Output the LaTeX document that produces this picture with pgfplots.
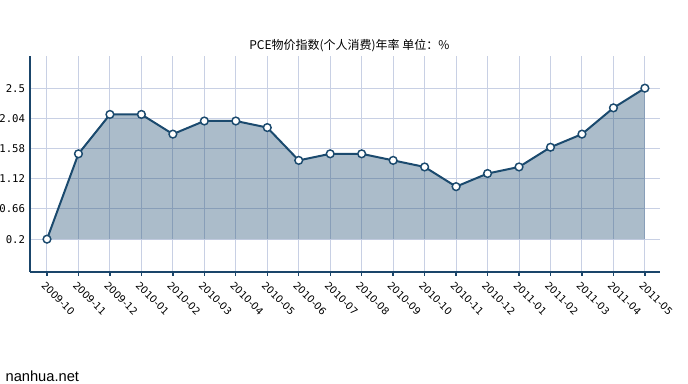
\documentclass[border=0pt]{standalone}
\usepackage{pgfplots}
\pgfplotsset{compat=1.18}
\usepackage{fontspec}
\setmainfont{Liberation Sans}
\newfontfamily\cjk{Noto Sans CJK SC}
\newfontfamily\ticksans{DejaVu Sans}
\newfontfamily\tickmono{DejaVu Sans Mono}
\definecolor{linec}{HTML}{1B4A6E}
\definecolor{gridc}{HTML}{C8D0E4}
\definecolor{axisc}{HTML}{1A456A}
\begin{document}
\begin{tikzpicture}
\useasboundingbox (0,0) rectangle (516pt,288pt);
\begin{axis}[
  at={(22.5pt,84pt)}, anchor=south west,
  scale only axis, width=472.5pt, height=162pt,
  xmin=-0.54, xmax=19.48, ymin=-0.3, ymax=2.99,
  axis lines*=left,
  axis line style={axisc, line width=1.8pt},
  xtick={0,...,19},
  xticklabels={2009-10,2009-11,2009-12,2010-01,2010-02,2010-03,2010-04,2010-05,2010-06,2010-07,2010-08,2010-09,2010-10,2010-11,2010-12,2011-01,2011-02,2011-03,2011-04,2011-05},
  ytick={0.2,0.66,1.12,1.58,2.04,2.5},
  yticklabels={0.2,0.66,1.12,1.58,2.04,2.5},
  grid=major,
  major grid style={gridc, line width=0.75pt},
  tick align=outside,
  major tick length=3pt,
  xtick style={axisc, line width=1pt},
  ytick style={draw=none},
  xticklabel style={font=\ticksans\fontsize{7.5}{8}\selectfont, rotate=-45, anchor=north west, inner sep=1pt, yshift=-2pt, xshift=1pt},
  yticklabel style={font=\tickmono\fontsize{8}{9}\selectfont, inner sep=0.5pt},
  clip=false,
]
\addplot[draw=none, fill=linec, fill opacity=0.37, forget plot] coordinates {
(0,0.2) (1,1.5) (2,2.1) (3,2.1) (4,1.8) (5,2.0) (6,2.0) (7,1.9) (8,1.4) (9,1.5)
(10,1.5) (11,1.4) (12,1.3) (13,1.0) (14,1.2) (15,1.3) (16,1.6) (17,1.8) (18,2.2) (19,2.5)
(19,0.2)} -- cycle;
\addplot[linec, line width=1.5pt, mark=*, mark size=2.9pt, mark options={fill=white, draw=linec, line width=1.1pt}] coordinates {
(0,0.2) (1,1.5) (2,2.1) (3,2.1) (4,1.8) (5,2.0) (6,2.0) (7,1.9) (8,1.4) (9,1.5)
(10,1.5) (11,1.4) (12,1.3) (13,1.0) (14,1.2) (15,1.3) (16,1.6) (17,1.8) (18,2.2) (19,2.5)};
\end{axis}
\node[font=\cjk\fontsize{9}{10}\selectfont, inner sep=0] at (262pt,253.5pt) {PCE物价指数(个人消费)年率 单位：\%};
\node[anchor=base west, inner sep=0, font=\fontsize{11}{12}\selectfont] at (4pt,1.8pt) {nanhua.net};
\end{tikzpicture}
\end{document}
